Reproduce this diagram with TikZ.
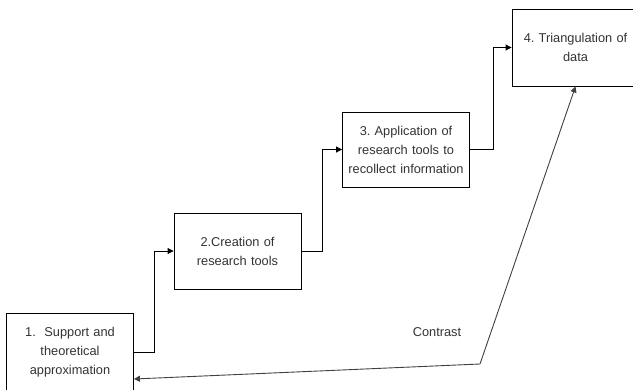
\documentclass[tikz,border=0pt]{standalone}
\usepackage{fontspec}
\setmainfont{Liberation Sans}
\usetikzlibrary{arrows.meta}
\begin{document}
\frenchspacing
\begin{tikzpicture}[x=1pt,y=-1pt,
  box/.style={draw=black,line width=0.9pt,fill=white,minimum width=127pt,text width=124pt,align=center,
    font=\fontsize{12.8}{19}\selectfont,text=black!80,inner sep=0pt},
  link/.style={draw=black,line width=0.9pt,-{Triangle[length=6pt,width=6pt]}},
  both/.style={draw=black!75,line width=0.9pt,-{Triangle[length=6pt,width=6pt]}}]
\useasboundingbox (0,0) rectangle (633,389);
\clip (0,0) rectangle (633,389);
\node[box,minimum height=78pt] (b1) at (70,352) {1.\ \ Support and\\theoretical\\approximation};
\node[box,minimum height=76pt] (b2) at (237.5,251) {2.Creation of\\research tools};
\node[box,minimum height=75pt] (b3) at (406,149.5) {3. Application of\\research tools to\\recollect information};
\node[box,minimum height=77pt] (b4) at (575.5,47.5) {4. Triangulation of\\data};
\draw[link] (b1.east) -- ++(20,0) |- (b2.west);
\draw[link] (b2.east) -- ++(21,0) |- (b3.west);
\draw[link] (b3.east) -- ++(23,0) |- (b4.west);
\coordinate (c) at (480,364);
\draw[both] (c) -- (b4.south);
\draw[both] (c) -- (b1.east |- 0,379);
\node[font=\fontsize{12.8}{14}\selectfont,text=black!80] (lab) at (437,332) {Contrast};
\end{tikzpicture}
\end{document}
